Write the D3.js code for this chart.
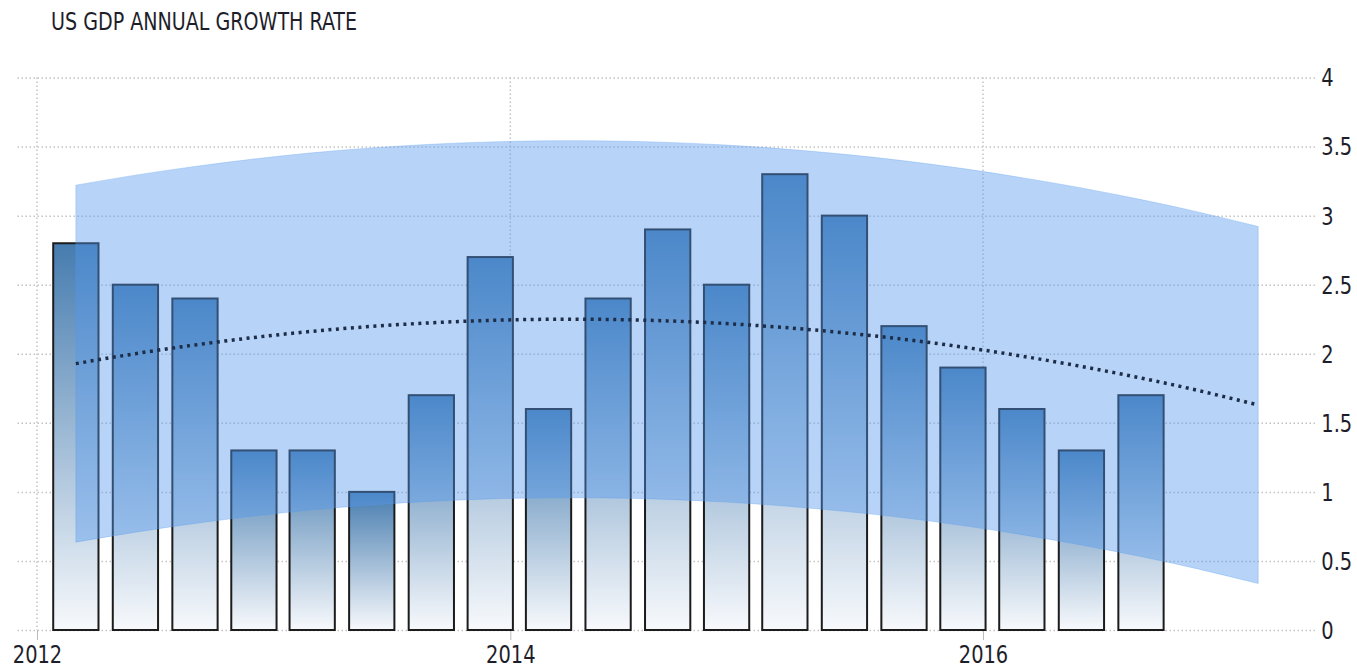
<!DOCTYPE html>
<html>
<head>
<meta charset="utf-8">
<script src="https://cdn.jsdelivr.net/npm/d3@7"></script>
<style>
  body { margin: 0; background: #fff; }
  text { font-family: "Liberation Sans Narrow", "DejaVu Sans Condensed", "Liberation Sans", sans-serif; fill: #1e1e2a; }
</style>
</head>
<body>
<script>
'use strict'
// quarterly US GDP annual growth rate, 2012 Q1 .. 2016 Q3
const quarters = ["2012-03-01", "2012-06-01", "2012-09-01", "2012-12-01",
    "2013-03-01", "2013-06-01", "2013-09-01", "2013-12-01",
    "2014-03-01", "2014-06-01", "2014-09-01", "2014-12-01",
    "2015-03-01", "2015-06-01", "2015-09-01", "2015-12-01",
    "2016-03-01", "2016-06-01", "2016-09-01"];
const growth = [2.8, 2.5, 2.4, 1.3, 1.3, 1.0, 1.7, 2.7, 1.6, 2.4,
    2.9, 2.5, 3.3, 3.0, 2.2, 1.9, 1.6, 1.3, 1.7];
const yTicks = [0, 0.5, 1, 1.5, 2, 2.5, 3, 3.5, 4];
const xTicks = ["2012-01-01", "2014-01-01", "2016-01-01"];
const title = "US GDP ANNUAL GROWTH RATE";
const extraQuarters = 2;

const width = 1357, height = 668;
const parse = d3.timeParse("%Y-%m-%d");
const dates = quarters.map(parse);

const x = d3.scaleTime()
    .domain([parse("2012-01-01"), parse("2016-01-01")])
    .range([37, 983]);
const y = d3.scaleLinear().domain([0, 4]).range([630, 77.5]);

// quadratic least squares fit on quarter index, band = +/- 2 sigma
function fitQuadratic(vals) {
    const n = vals.length;
    let s = [0, 0, 0, 0, 0], t = [0, 0, 0];
    vals.forEach((v, i) => {
        for (let k = 0; k < 5; k++) s[k] += Math.pow(i, k);
        for (let k = 0; k < 3; k++) t[k] += v * Math.pow(i, k);
    });
    const m = [[s[0], s[1], s[2], t[0]], [s[1], s[2], s[3], t[1]], [s[2], s[3], s[4], t[2]]];
    for (let c = 0; c < 3; c++) {
        for (let r = c + 1; r < 3; r++) {
            const f = m[r][c] / m[c][c];
            for (let k = c; k < 4; k++) m[r][k] -= f * m[c][k];
        }
    }
    const coef = [0, 0, 0];
    for (let r = 2; r >= 0; r--) {
        let acc = m[r][3];
        for (let k = r + 1; k < 3; k++) acc -= m[r][k] * coef[k];
        coef[r] = acc / m[r][r];
    }
    return coef;
}
const coef = fitQuadratic(growth);
const fitAt = i => coef[0] + coef[1] * i + coef[2] * i * i;
const sigma = Math.sqrt(d3.sum(growth, (v, i) => (v - fitAt(i)) ** 2) / growth.length);

const trend = d3.range(growth.length + extraQuarters).map(i => ({
    date: d3.timeMonth.offset(dates[0], 3 * i),
    v: fitAt(i)
}));

const svg = d3.select("body").append("svg")
    .attr("width", width)
    .attr("height", height);

const defs = svg.append("defs");
const grad = defs.append("linearGradient")
    .attr("id", "barGrad")
    .attr("x1", 0).attr("y1", 0).attr("x2", 0).attr("y2", 1);
grad.append("stop").attr("offset", "0%").attr("stop-color", "#467caf");
grad.append("stop").attr("offset", "100%").attr("stop-color", "#f7f9fc");

// narrow face: squeeze the condensed font a bit
svg.append("text")
    .attr("x", 51)
    .attr("y", 30)
    .attr("font-size", "24px")
    .attr("textLength", 306)
    .attr("lengthAdjust", "spacingAndGlyphs")
    .text(title);

// horizontal grid + right axis labels
const yAxis = d3.axisRight(y)
    .tickValues(yTicks)
    .tickSize(-(1315 - 15))
    .tickPadding(7)
    .tickFormat(d3.format("~g"));
const gy = svg.append("g")
    .attr("transform", "translate(1315,0)")
    .call(yAxis);
gy.select(".domain").remove();
gy.selectAll("line")
    .attr("stroke", "#c4c4c4")
    .attr("stroke-width", 1.5)
    .attr("stroke-dasharray", "1.5,2.5");
gy.selectAll("text")
    .attr("font-size", "24px")
    .attr("dy", "0.35em")
    .attr("transform", "scale(0.9,1)");

// vertical grid + bottom labels
const xTickDates = xTicks.map(parse);
svg.append("g").selectAll("line")
    .data(xTickDates)
    .enter()
    .append("line")
    .attr("x1", d => x(d)).attr("x2", d => x(d))
    .attr("y1", y(4)).attr("y2", y(0))
    .attr("stroke", "#c4c4c4")
    .attr("stroke-width", 1.5)
    .attr("stroke-dasharray", "1.5,2.5");

const xAxis = d3.axisBottom(x)
    .tickValues(xTickDates)
    .tickSize(10)
    .tickPadding(6)
    .tickFormat(d3.timeFormat("%Y"));
const gx = svg.append("g")
    .attr("transform", "translate(0," + y(0) + ")")
    .call(xAxis);
gx.select(".domain").remove();
gx.selectAll("line").attr("stroke", "#bbb");
gx.selectAll("text")
    .attr("font-size", "24px")
    .attr("transform", "scale(0.9,1)");

// bars
const step = x(dates[1]) - x(dates[0]);
const barW = step * 0.76;
svg.append("g").selectAll("rect")
    .data(growth)
    .enter()
    .append("rect")
    .attr("x", (d, i) => x(dates[i]) - barW / 2)
    .attr("y", d => y(d))
    .attr("width", barW)
    .attr("height", d => y(0) - y(d))
    .attr("fill", "url(#barGrad)")
    .attr("stroke", "#1c1c1c")
    .attr("stroke-width", 2);

// confidence band
const area = d3.area()
    .x(d => x(d.date))
    .y0(d => y(d.v - 2 * sigma))
    .y1(d => y(d.v + 2 * sigma))
    .curve(d3.curveNatural);
svg.append("path")
    .datum(trend)
    .attr("d", area)
    .attr("fill", "rgb(84,152,238)")
    .attr("fill-opacity", 0.42)
    .attr("stroke", "rgb(84,152,238)")
    .attr("stroke-opacity", 0.3)
    .attr("stroke-width", 1);

// trend line
const line = d3.line()
    .x(d => x(d.date))
    .y(d => y(d.v))
    .curve(d3.curveNatural);
svg.append("path")
    .datum(trend)
    .attr("d", line)
    .attr("fill", "none")
    .attr("stroke", "#1d2d48")
    .attr("stroke-width", 3.5)
    .attr("stroke-dasharray", "3,4.5");
</script>
</body>
</html>
